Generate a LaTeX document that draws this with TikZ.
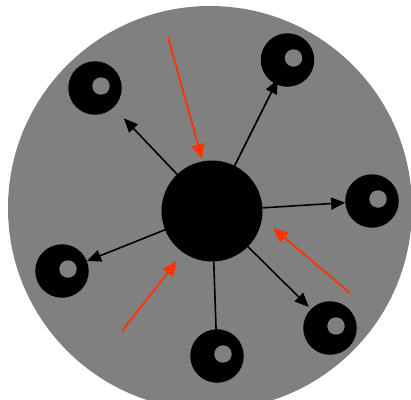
\documentclass[tikz,border=0pt]{standalone}
\usetikzlibrary{arrows.meta}
\definecolor{plategrey}{HTML}{808080}
\definecolor{pushred}{HTML}{FF3300}
\tikzset{
  plate/.style={circle,fill=plategrey,minimum size=404pt,inner sep=0pt},
  hub/.style={circle,fill=black,minimum size=101pt,inner sep=0pt},
  ring/.style={circle,fill=black,minimum size=53.5pt,inner sep=0pt,
               path picture={\fill[plategrey] ([shift={(6pt,2pt)}]path picture bounding box.center) circle (8.7pt);}},
  arrow/.style={-{Triangle[length=14pt,width=12pt]},line width=1.6pt,draw=black},
  push/.style={-{Triangle[length=15pt,width=13pt]},line width=1.8pt,draw=pushred}
}
\begin{document}
\begin{tikzpicture}[x=1pt,y=-1pt]
\useasboundingbox (0,0) rectangle (411,399);
\node[plate] (plate) at (210,208) {};
\node[hub] (hub) at (212,211) {};
\node[ring] (nw) at (95,88) {};
\node[ring] (ne) at (287.5,60) {};
\node[ring] (east) at (372,201) {};
\node[ring] (west) at (62,271) {};
\node[ring] (se) at (330,328) {};
\node[ring] (south) at (217,356) {};
\coordinate (pushA) at (168,37);
\coordinate (tipA) at (202,159);
\coordinate (pushB) at (350,293);
\coordinate (tipB) at (273,228);
\coordinate (pushC) at (122,331);
\coordinate (tipC) at (177,261);
\draw[arrow,shorten >=15pt] (hub)--(nw);
\draw[arrow,shorten >=22pt] (hub)--(ne.center);
\draw[arrow] (hub)--(east);
\draw[arrow] (hub)--(west);
\draw[arrow,shorten >=3pt] (hub)--(se);
\draw[arrow,shorten >=10pt] (hub)--(south.center);
\draw[push] (pushA)--(tipA);
\draw[push] (pushB)--(tipB);
\draw[push] (pushC)--(tipC);
\end{tikzpicture}
\end{document}
